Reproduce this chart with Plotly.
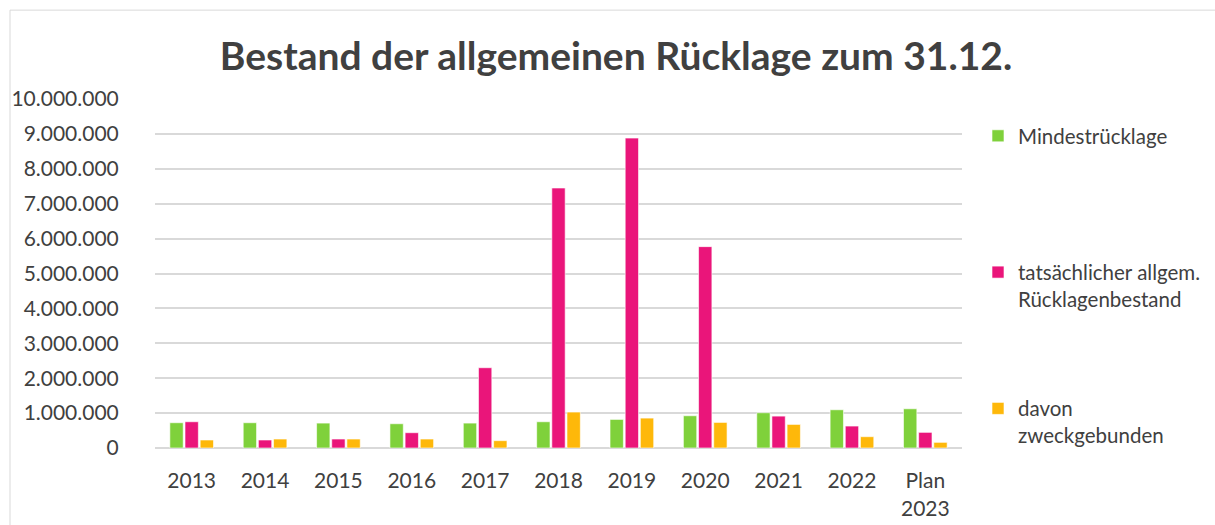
import plotly.graph_objects as go

categories = ["2013", "2014", "2015", "2016", "2017", "2018", "2019", "2020", "2021", "2022", "Plan<br>2023"]
mindest = [724000, 724000, 714000, 695000, 714000, 752000, 819000, 924000, 1010000, 1095000, 1124000]
tatsaechlich = [752000, 229000, 257000, 438000, 2300000, 7450000, 8880000, 5770000, 914000, 629000, 448000]
zweck = [229000, 257000, 257000, 257000, 210000, 1030000, 857000, 733000, 676000, 324000, 162000]

names = ["Mindestrücklage<br> ", "tatsächlicher allgem.<br>Rücklagenbestand", "davon<br>zweckgebunden"]
colors = ["#7FD13B", "#EA157A", "#FEB80A"]
series = [mindest, tatsaechlich, zweck]

fig = go.Figure()
for n, c, v in zip(names, colors, series):
    fig.add_trace(go.Bar(x=categories, y=v, name=n, legendgroup=n,
                         marker=dict(color=c, line=dict(color="rgba(255,255,255,0.6)", width=1))))

L, R, T, B = 155, 962, 99, 448.5
PW, PH = R - L, B - T
font_fam = "Lato, 'Open Sans', sans-serif"
fig.update_layout(
    width=1215, height=525,
    paper_bgcolor="white", plot_bgcolor="white",
    margin=dict(l=L, r=1215 - R, t=T, b=525 - B, autoexpand=False),
    separators=",.",
    barmode="group", bargap=0.38, bargroupgap=0.12,
    title=dict(text="<b>Bestand der allgemeinen Rücklage zum 31.12.</b>",
               x=616/1215, xanchor="center", y=1-56/525, yanchor="middle",
               font=dict(family=font_fam, size=39, color="#404040")),
    font=dict(family=font_fam, size=21, color="#404040"),
    legend=dict(x=(978 - L) / PW, xanchor="left", y=(B - 116) / PH, yanchor="top",
                tracegroupgap=80, valign="top",
                font=dict(family=font_fam, size=20.5, color="#404040"),
                itemwidth=30),
    showlegend=True,
)
fig.update_yaxes(range=[0, 10000000], dtick=1000000, tickformat=",d",
                 showgrid=True, gridcolor="#D9D9D9", gridwidth=1.5,
                 zeroline=True, zerolinecolor="#D9D9D9", zerolinewidth=1.5,
                 ticks="outside", ticklen=31, tickcolor="white", showline=False,
                 automargin=False)
fig.update_xaxes(ticks="outside", ticklen=14, tickcolor="white", showline=False,
                 automargin=False)

fig.add_shape(type="rect", xref="paper", yref="paper",
              x0=(10 - L) / PW, x1=1.4, y0=-0.4, y1=(B - 10) / PH,
              line=dict(color="#D9D9D9", width=1), fillcolor="rgba(0,0,0,0)", layer="below")

fig.write_html("out.html", config={"displayModeBar": False},
               post_script="document.body.style.margin='0';document.body.style.overflow='hidden';")
